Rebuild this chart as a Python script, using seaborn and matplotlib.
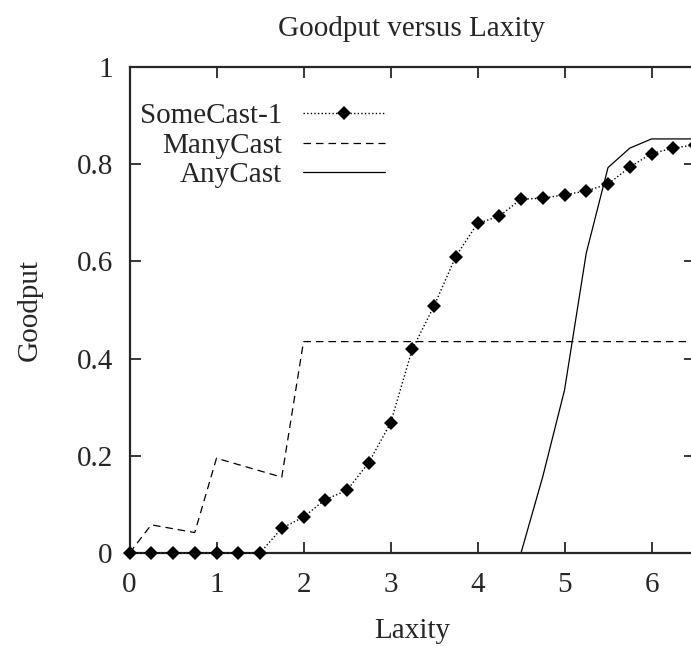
import numpy as np
import pandas as pd
import seaborn as sns
import matplotlib.pyplot as plt

# values
some_x = [0, 0.25, 0.5, 0.75, 1.0, 1.25, 1.5, 1.75, 2.0, 2.25, 2.5, 2.75, 3.0, 3.25,
          3.5, 3.75, 4.0, 4.25, 4.5, 4.75, 5.0, 5.25, 5.5, 5.75, 6.0, 6.25, 6.5]
some_y = [0, 0, 0, 0, 0, 0, 0, 0.051, 0.074, 0.110, 0.129, 0.186, 0.267, 0.419,
          0.508, 0.610, 0.678, 0.693, 0.728, 0.730, 0.737, 0.745, 0.759, 0.794, 0.822, 0.833, 0.840]
many_x = [0, 0.25, 0.75, 1.0, 1.75, 2.0, 6.5]
many_y = [0, 0.058, 0.042, 0.195, 0.156, 0.435, 0.435]
any_x = [0, 4.5, 4.75, 5.0, 5.25, 5.5, 5.75, 6.0, 6.5]
any_y = [0, 0, 0.157, 0.335, 0.617, 0.793, 0.833, 0.852, 0.852]

some_df = pd.DataFrame({"Laxity": some_x, "Goodput": some_y})
many_df = pd.DataFrame({"Laxity": many_x, "Goodput": many_y})
any_df = pd.DataFrame({"Laxity": any_x, "Goodput": any_y})

sns.set_style("ticks")
plt.rcParams["font.family"] = ["Liberation Serif", "DejaVu Serif"]
fs = 21

fig = plt.figure(figsize=(6.91, 6.46), dpi=100)
ax = fig.add_axes([129.5 / 691, 93 / 646, (695 - 129.5) / 691, (553 - 67) / 646])

sns.lineplot(data=some_df, x="Laxity", y="Goodput", ax=ax, color="black",
             linestyle=(0, (1, 1.6)), linewidth=1, marker="D", markersize=7.5,
             markeredgewidth=0, label="SomeCast-1", clip_on=False, zorder=5)
sns.lineplot(data=many_df, x="Laxity", y="Goodput", ax=ax, color="black",
             linestyle=(0, (6, 4)), linewidth=0.9, label="ManyCast")
sns.lineplot(data=any_df, x="Laxity", y="Goodput", ax=ax, color="black",
             linestyle="-", linewidth=0.9, label="AnyCast")

ax.set_xlim(0, 6.5)
ax.set_ylim(0, 1)
ax.set_xticks([0, 1, 2, 3, 4, 5, 6])
ax.set_yticks([0, 0.2, 0.4, 0.6, 0.8, 1])
ax.set_yticklabels(["0", "0.2", "0.4", "0.6", "0.8", "1"])
ax.tick_params(direction="in", length=8, width=1.3, top=True, right=True,
               labelsize=fs)
ax.tick_params(axis="x", pad=14)
ax.tick_params(axis="y", pad=12)
for s in ax.spines.values():
    s.set_linewidth(1.6)
    s.set_visible(True)

ax.set_xlabel("Laxity", fontsize=fs, labelpad=14)
ax.set_ylabel("Goodput", fontsize=fs, labelpad=24)
fig.text(412 / 691, 1 - 29 / 646, "Goodput versus Laxity", ha="center", va="center",
         fontsize=fs)

leg = ax.legend(loc="upper right", bbox_to_anchor=(385 / 691, 1 - 103 / 646),
                bbox_transform=fig.transFigure, frameon=False,
                markerfirst=False, handlelength=2.8, handletextpad=0.72,
                labelspacing=0.1, borderpad=0, borderaxespad=0, fontsize=fs)

fig.savefig("out.png", dpi=100)
